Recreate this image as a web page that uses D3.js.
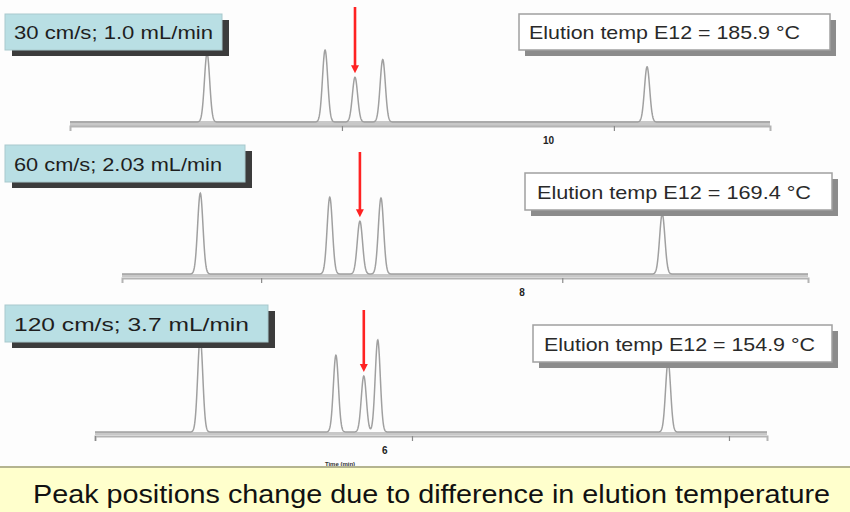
<!DOCTYPE html>
<html>
<head>
<meta charset="utf-8">
<script src="https://cdn.jsdelivr.net/npm/d3@7"></script>
<style>
  html, body { margin: 0; padding: 0; background: #fdfdfd; }
  svg { display: block; font-family: "Liberation Sans", Arial, sans-serif; }
</style>
</head>
<body>
<svg id="chart" width="850" height="512"></svg>
<script>
// Carrier-gas conditions for the three runs
const runLabels = ["30 cm/s; 1.0 mL/min", "60 cm/s; 2.03 mL/min", "120 cm/s; 3.7 mL/min"];
// Elution temperature of E12 in each run (°C)
const elutionTempE12 = [185.9, 169.4, 154.9];
// Retention times of the five peaks (min)
const retentionTimes = [
  [2.52, 4.69, 5.24, 5.75, 10.61],
  [3.99, 6.14, 6.64, 6.99, 11.66],
  [1.66, 3.80, 4.24, 4.46, 9.04]
];
// Peak heights (relative response)
const peakHeights = [
  [86, 90, 56, 78, 69],
  [101, 96, 66, 95, 75],
  [118, 96, 70, 115, 88]
];
// Peak widths (sigma, min)
const peakSigma = [0.048, 0.044, 0.04];
// Time window shown for each run (min)
const timeWindows = [[0, 12.87], [2.69, 14.08], [0, 10.6]];
// Axis tick positions (min) and the printed tick label of each run
const axisTicks = [[5, 10], [5, 10], [0, 5, 10]];
const tickLabels = ["10", "8", "6"];
const tickLabelTimes = [8.8, 9.33, 4.57];
// Index of the E12 peak in each trace
const e12Index = 2;
const footnote = "Peak positions change due to difference in elution temperature";
const axisTitle = "Time (min)";

// ---- layout ----
const panels = [
  { x0: 70,  x1: 770, base: 122, arrowTop: 7, band: 5,
    label: { x: 5, y: 14, w: 217, h: 36, tx: 14, tw: 199 },
    temp:  { x: 519, y: 14, w: 311, h: 36, tx: 529, tw: 271 } },
  { x0: 122, x1: 808, base: 274, arrowTop: 152, band: 3,
    label: { x: 5, y: 145, w: 240, h: 37, tx: 14, tw: 208 },
    temp:  { x: 525, y: 173, w: 307, h: 37, tx: 537, tw: 274 } },
  { x0: 95,  x1: 767, base: 432, arrowTop: 310, band: 3,
    label: { x: 5, y: 305, w: 263, h: 37, tx: 14, tw: 235 },
    temp:  { x: 533, y: 325, w: 299, h: 37, tx: 544, tw: 271 } }
];

const svg = d3.select("#chart");

svg.append("rect").attr("width", 850).attr("height", 512).attr("fill", "#fdfdfd");

panels.forEach((p, i) => {
  const x = d3.scaleLinear().domain(timeWindows[i]).range([p.x0, p.x1]);
  const y = d3.scaleLinear().domain([0, 100]).range([p.base, p.base - 80]);
  const g = svg.append("g");

  // baseline band and time axis
  g.append("line")
    .attr("x1", p.x0).attr("x2", p.x1)
    .attr("y1", p.base + 1.5).attr("y2", p.base + 1.5)
    .attr("stroke", "#c8c8c8").attr("stroke-width", p.band);
  const axis = d3.axisBottom(x).tickValues(axisTicks[i]).tickSize(5).tickFormat("");
  const ax = g.append("g").attr("transform", `translate(0,${p.base + 4})`).call(axis);
  ax.select(".domain").attr("stroke", "#b4b4b4").attr("stroke-width", 2);
  ax.selectAll(".tick line").attr("stroke", "#8a8a8a").attr("stroke-width", 1.2);

  // chromatogram trace: one gaussian profile per peak
  const t0 = timeWindows[i][0], t1 = timeWindows[i][1];
  const step = (t1 - t0) / 2400;
  const pts = d3.range(t0, t1 + step / 2, step).map(t => {
    let v = 0;
    retentionTimes[i].forEach((rt, k) => {
      const z = (t - rt) / peakSigma[i];
      v += peakHeights[i][k] * Math.exp(-0.5 * z * z);
    });
    return [t, v];
  });
  g.append("path")
    .attr("d", d3.line().x(d => x(d[0])).y(d => y(d[1]))(pts))
    .attr("fill", "none")
    .attr("stroke", "#a0a0a0")
    .attr("stroke-width", 1.5);

  // tick label
  g.append("text")
    .attr("x", x(tickLabelTimes[i])).attr("y", p.base + 22)
    .attr("text-anchor", "middle")
    .attr("font-size", 10).attr("font-weight", "bold").attr("fill", "#222")
    .text(tickLabels[i]);

  // red arrow on the E12 peak
  const ex = x(retentionTimes[i][e12Index]);
  const tipY = y(peakHeights[i][e12Index]) - 4;
  g.append("line")
    .attr("x1", ex).attr("x2", ex)
    .attr("y1", p.arrowTop).attr("y2", tipY - 6)
    .attr("stroke", "#ff2222").attr("stroke-width", 2.6);
  g.append("path")
    .attr("d", `M${ex - 4},${tipY - 8} L${ex + 4},${tipY - 8} L${ex},${tipY} Z`)
    .attr("fill", "#ff2222");

  // run condition label
  const L = p.label;
  g.append("rect").attr("x", L.x + 7).attr("y", L.y + 6).attr("width", L.w).attr("height", L.h)
    .attr("fill", "#3c3c3c");
  g.append("rect").attr("x", L.x).attr("y", L.y).attr("width", L.w).attr("height", L.h)
    .attr("fill", "#b9dfe4").attr("stroke", "#a9c9cd").attr("stroke-width", 1);
  g.append("text")
    .attr("x", L.tx).attr("y", L.y + L.h / 2 + 7)
    .attr("font-size", 19).attr("fill", "#1e1e1e")
    .attr("textLength", L.tw).attr("lengthAdjust", "spacingAndGlyphs")
    .text(runLabels[i]);

  // elution temperature callout
  const T = p.temp;
  g.append("rect").attr("x", T.x + 6).attr("y", T.y + 6).attr("width", T.w).attr("height", T.h)
    .attr("fill", "#8c8c8c");
  g.append("rect").attr("x", T.x).attr("y", T.y).attr("width", T.w).attr("height", T.h)
    .attr("fill", "#ffffff").attr("stroke", "#a0a0a0").attr("stroke-width", 1.5);
  g.append("text")
    .attr("x", T.tx).attr("y", T.y + T.h / 2 + 7)
    .attr("font-size", 19).attr("fill", "#2a2a2a")
    .attr("textLength", T.tw).attr("lengthAdjust", "spacingAndGlyphs")
    .text(`Elution temp E12 = ${elutionTempE12[i].toFixed(1)} °C`);

  if (i === 2) {
    g.append("text")
      .attr("x", 340).attr("y", p.base + 34)
      .attr("text-anchor", "middle")
      .attr("font-size", 6).attr("font-weight", "bold").attr("fill", "#333")
      .text(axisTitle);
  }
});

// footnote banner
svg.append("rect").attr("x", 0).attr("y", 467).attr("width", 850).attr("height", 45)
  .attr("fill", "#ffffcc");
svg.append("line").attr("x1", 0).attr("x2", 850).attr("y1", 467).attr("y2", 467)
  .attr("stroke", "#b4b490").attr("stroke-width", 2);
svg.append("text")
  .attr("x", 33).attr("y", 503)
  .attr("font-size", 25).attr("fill", "#111")
  .attr("textLength", 797).attr("lengthAdjust", "spacingAndGlyphs")
  .text(footnote);
</script>
</body>
</html>
